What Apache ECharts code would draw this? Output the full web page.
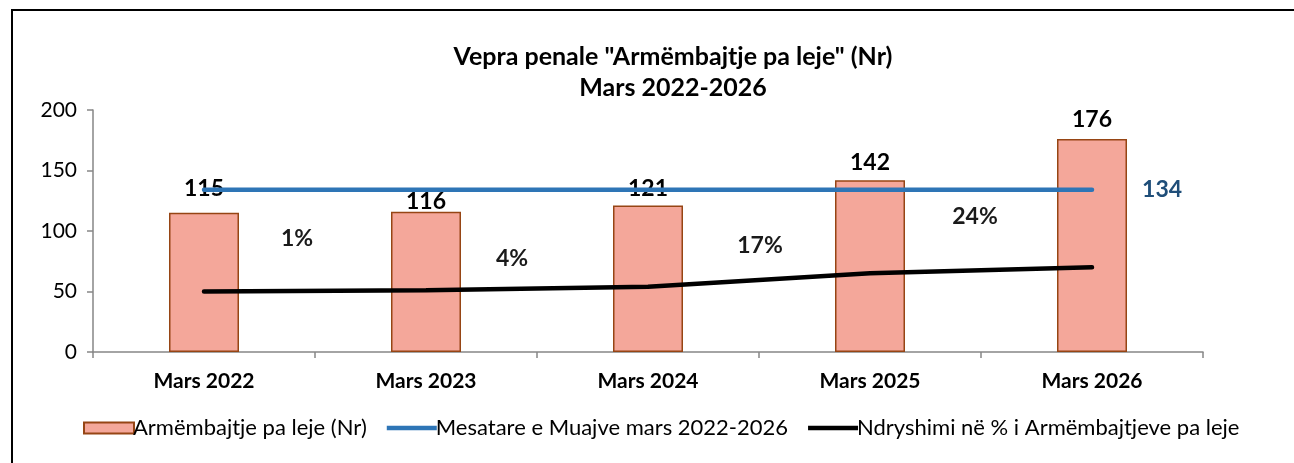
<!DOCTYPE html>
<html>
<head>
<meta charset="utf-8">
<script src="https://cdn.jsdelivr.net/npm/echarts@6/dist/echarts.min.js"></script>
<style>
html,body{margin:0;padding:0;background:#fff;}
#c{width:1294px;height:463px;}
</style>
</head>
<body>
<div id="c"></div>
<script>
var categories = ['Mars 2022', 'Mars 2023', 'Mars 2024', 'Mars 2025', 'Mars 2026'];
var countValues = [115, 116, 121, 142, 176];
var meanValues = [134, 134, 134, 134, 134];
var changeLineValues = [50, 51, 54, 65, 70];
var changeLabels = ['', '1%', '4%', '17%', '24%'];
var yTicks = [0, 50, 100, 150, 200];
var seriesNames = ['Armëmbajtje pa leje (Nr)', 'Mesatare e Muajve mars 2022-2026', 'Ndryshimi në % i Armëmbajtjeve pa leje'];
var titleText = 'Vepra penale "Armëmbajtje pa leje" (Nr)\nMars 2022-2026';

// style-only nudges for label placement
var barLabelNudge = [-13, 1, -6, -6, -8];
var pctLabelOffsets = [null, [-129, -52], [-136, -28], [-110, -28], [-117, -51]];

var FONT = 'Lato, "Open Sans", sans-serif';
var LINE_ICON = 'path://M0,0 L50,0 L50,4.5 L0,4.5 Z';

var chart = echarts.init(document.getElementById('c'), null, {renderer: 'canvas'});

var barData = countValues.map(function (v, i) {
  return {value: v, label: {offset: [0, barLabelNudge[i]]}};
});
var changeData = changeLineValues.map(function (v, i) {
  var o = {value: v};
  if (changeLabels[i]) {
    o.label = {show: true, formatter: changeLabels[i], position: 'inside', offset: pctLabelOffsets[i]};
  }
  return o;
});
var meanData = meanValues.map(function (v, i) {
  var o = {value: v};
  if (i === meanValues.length - 1) {
    o.label = {show: true, position: 'right', distance: 50, formatter: String(v)};
  }
  return o;
});

chart.setOption({
  animation: false,
  backgroundColor: '#fff',
  textStyle: {fontFamily: FONT},
  title: {
    text: titleText,
    left: 668,
    textAlign: 'center',
    top: 36,
    textStyle: {fontFamily: FONT, fontSize: 25, fontWeight: 'bold', color: '#000', lineHeight: 31}
  },
  graphic: [{
    type: 'rect',
    shape: {x: 12, y: 10, width: 1300, height: 470},
    style: {fill: 'none', stroke: '#000', lineWidth: 2},
    silent: true
  }],
  legend: {
    bottom: 19,
    left: 78,
    itemGap: 20,
    itemWidth: 50,
    itemHeight: 11,
    textStyle: {fontFamily: FONT, fontSize: 22, color: '#000', padding: [0, 0, 0, -6]},
    data: [
      {name: seriesNames[0], icon: 'rect'},
      {name: seriesNames[1], icon: LINE_ICON},
      {name: seriesNames[2], icon: LINE_ICON}
    ]
  },
  grid: {left: 93, right: 91, top: 110, bottom: 111, containLabel: false},
  xAxis: {
    type: 'category',
    data: categories,
    boundaryGap: true,
    axisLine: {lineStyle: {color: '#868686', width: 1.5}},
    axisTick: {show: true, length: 6, alignWithLabel: false, lineStyle: {color: '#868686', width: 1.5}},
    axisLabel: {fontFamily: FONT, fontSize: 21, fontWeight: 'bold', color: '#000', margin: 19}
  },
  yAxis: {
    type: 'value',
    min: yTicks[0],
    max: yTicks[yTicks.length - 1],
    interval: yTicks[1] - yTicks[0],
    axisLine: {show: true, lineStyle: {color: '#868686', width: 1.5}},
    axisTick: {show: true, length: 6, inside: false, lineStyle: {color: '#868686', width: 1.5}},
    splitLine: {show: false},
    axisLabel: {fontFamily: FONT, fontSize: 21, color: '#000', margin: 16}
  },
  series: [
    {
      name: seriesNames[0],
      type: 'bar',
      data: barData,
      barWidth: 70,
      itemStyle: {color: '#F4A79A', borderColor: '#964514', borderWidth: 1.5},
      label: {show: true, position: 'top', distance: 0, fontFamily: FONT, fontSize: 23, fontWeight: 'bold', color: '#000'},
      z: 2
    },
    {
      name: seriesNames[1],
      type: 'line',
      data: meanData,
      symbol: 'circle',
      symbolSize: 0.1,
      showSymbol: true,
      lineStyle: {color: '#2E75B6', width: 4.5, cap: 'round'},
      itemStyle: {color: '#2E75B6'},
      label: {show: false, fontFamily: FONT, fontSize: 23, fontWeight: 'bold', color: '#1F4E79'},
      z: 3
    },
    {
      name: seriesNames[2],
      type: 'line',
      data: changeData,
      symbol: 'circle',
      symbolSize: 0.1,
      showSymbol: true,
      lineStyle: {color: '#000', width: 4.5, cap: 'round'},
      itemStyle: {color: '#000'},
      label: {show: false, fontFamily: FONT, fontSize: 23, fontWeight: 'bold', color: '#1a1a1a'},
      z: 4
    }
  ]
});
</script>
</body>
</html>
